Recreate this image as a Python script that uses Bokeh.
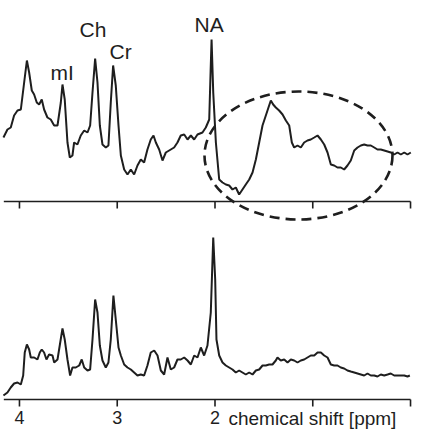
from bokeh.plotting import figure
from bokeh.models import Range1d, ColumnDataSource
from bokeh.core.properties import value
from bokeh.embed import file_html
from bokeh.resources import INLINE

# ---- data (ppm, intensity above each spectrum's own baseline) ----
top_ppm = [4.164, 4.123, 4.089, 4.055, 4.020, 3.986, 3.952, 3.924, 3.901, 3.874, 3.850, 3.823, 3.799, 3.772,
           3.748, 3.714, 3.680, 3.645, 3.611, 3.577, 3.560, 3.537, 3.509, 3.485, 3.458, 3.441, 3.407, 3.373,
           3.338, 3.304, 3.277, 3.253, 3.226, 3.202, 3.178, 3.151, 3.117, 3.090, 3.066, 3.042, 3.015, 2.987,
           2.963, 2.929, 2.895, 2.861, 2.827, 2.793, 2.759, 2.725, 2.691, 2.657, 2.629, 2.605, 2.571, 2.537,
           2.503, 2.452, 2.418, 2.384, 2.350, 2.315, 2.281, 2.247, 2.213, 2.179, 2.128, 2.094, 2.059, 2.045,
           2.035, 2.018, 1.991, 1.957, 1.923, 1.889, 1.855, 1.821, 1.787, 1.753, 1.719, 1.685, 1.650, 1.616,
           1.582, 1.548, 1.514, 1.480, 1.453, 1.429, 1.405, 1.378, 1.344, 1.309, 1.275, 1.241, 1.214, 1.190,
           1.156, 1.122, 1.088, 1.054, 1.020, 0.985, 0.951, 0.917, 0.883, 0.849, 0.815, 0.781, 0.747, 0.713,
           0.679, 0.645, 0.611, 0.576, 0.542, 0.508, 0.474, 0.440, 0.406, 0.371, 0.338, 0.304, 0.269, 0.235,
           0.202, 0.167, 0.133, 0.099, 0.064, 0.031, -0.003]
top_int = [64, 72, 74, 86, 91, 92, 119, 141, 129, 111, 107, 99, 97, 102,
           92, 84, 82, 76, 76, 99, 117, 102, 59, 44, 46, 59, 57, 66,
           71, 69, 76, 109, 143, 119, 76, 57, 54, 56, 99, 136, 116, 76,
           46, 32, 27, 32, 27, 36, 42, 39, 52, 62, 66, 59, 52, 41,
           49, 52, 54, 59, 66, 67, 62, 66, 62, 67, 69, 74, 82, 130,
           162, 109, 59, 22, 19, 17, 16, 12, 14, 7, 12, 17, 22, 29,
           42, 59, 76, 86, 94, 101, 97, 94, 91, 87, 81, 76, 59, 54,
           56, 54, 59, 61, 62, 64, 66, 62, 57, 49, 37, 36, 34, 34,
           32, 36, 41, 51, 54, 56, 57, 56, 56, 54, 52, 52, 51, 50,
           49, 47, 49, 47, 49, 47, 49]

bot_ppm = [4.164, 4.123, 4.089, 4.055, 4.020, 3.986, 3.962, 3.946, 3.924, 3.901, 3.884, 3.850, 3.816, 3.792,
           3.772, 3.748, 3.724, 3.697, 3.662, 3.645, 3.611, 3.588, 3.560, 3.537, 3.509, 3.482, 3.458, 3.424,
           3.389, 3.363, 3.338, 3.304, 3.277, 3.253, 3.226, 3.202, 3.178, 3.151, 3.117, 3.090, 3.066, 3.039,
           3.015, 2.987, 2.963, 2.929, 2.895, 2.861, 2.827, 2.793, 2.759, 2.725, 2.691, 2.657, 2.622, 2.588,
           2.554, 2.520, 2.486, 2.452, 2.418, 2.384, 2.350, 2.315, 2.281, 2.247, 2.213, 2.179, 2.145, 2.111,
           2.077, 2.043, 2.018, 1.998, 1.985, 1.957, 1.923, 1.889, 1.855, 1.821, 1.787, 1.753, 1.719, 1.685,
           1.650, 1.616, 1.582, 1.548, 1.514, 1.480, 1.446, 1.412, 1.378, 1.361, 1.327, 1.292, 1.258, 1.224,
           1.190, 1.156, 1.122, 1.088, 1.054, 1.020, 0.985, 0.951, 0.917, 0.883, 0.849, 0.815, 0.781, 0.747,
           0.713, 0.679, 0.645, 0.611, 0.576, 0.542, 0.508, 0.474, 0.440, 0.406, 0.371, 0.338, 0.304, 0.269,
           0.235, 0.202, 0.167, 0.133, 0.099, 0.064, 0.031, 0.007]
bot_int = [4, 7, 12, 16, 17, 15, 24, 47, 55, 50, 42, 42, 40, 47,
           50, 47, 40, 45, 44, 37, 40, 54, 71, 60, 40, 24, 32, 32,
           34, 40, 32, 29, 30, 60, 100, 87, 54, 39, 32, 37, 60, 104,
           80, 52, 44, 35, 32, 30, 27, 24, 25, 24, 34, 47, 49, 44,
           29, 25, 42, 30, 32, 40, 40, 42, 39, 35, 44, 42, 52, 44,
           54, 87, 162, 120, 60, 44, 37, 34, 32, 30, 27, 29, 27, 25,
           27, 25, 29, 30, 34, 34, 35, 35, 39, 42, 39, 40, 37, 40,
           39, 37, 39, 40, 42, 44, 44, 47, 47, 44, 42, 35, 34, 34,
           32, 31, 29, 28, 27, 26, 25, 24, 26, 24, 24, 23, 25, 24,
           25, 26, 24, 24, 24, 24, 23, 24]

tick_values = [4, 3, 2, 1, 0]
tick_labels = ["4", "3", "2", "", ""]
axis_start_ppm = 4.16
axis_title = "chemical shift [ppm]"

peak_names = ["mI", "Ch", "Cr", "NA"]
peak_label_ppm = [3.683, 3.386, 3.079, 2.210]
peak_label_y = [327, 370, 348, 375]

top_offset = 198          # vertical offset of the upper spectrum
ellipse_ppm, ellipse_y = 1.146, 244
ellipse_w, ellipse_h = 1.923, 128

INK = "#1e1e1e"
FONT = "Liberation Sans"

p = figure(width=420, height=430, output_backend="svg", toolbar_location=None,
           x_axis_location=None, y_axis_location=None,
           x_range=Range1d(4.194, -0.102), y_range=Range1d(-31, 399),
           min_border_left=0, min_border_right=0, min_border_top=0, min_border_bottom=0)
p.outline_line_color = None
p.grid.visible = False
p.background_fill_color = "white"

n = len(tick_values)
# two baseline axes (lower spectrum at 0, upper spectrum at top_offset)
for base in (0, top_offset):
    p.segment(x0=[axis_start_ppm], y0=[base], x1=[tick_values[-1]], y1=[base],
              line_color=INK, line_width=1.6)
    p.segment(x0=tick_values, y0=[base] * n, x1=tick_values, y1=[base - 7] * n,
              line_color=INK, line_width=1.6)

# tick labels for the lower axis
p.text(x=tick_values, y=[-11] * n, text=tick_labels, text_font=value(FONT),
       text_font_size="18px", text_color=INK, text_align="center", text_baseline="top")
p.text(x=[1.862], y=[-19], text=[axis_title], text_font=value(FONT),
       text_font_size="19px", text_color=INK, text_align="left", text_baseline="alphabetic")

# spectra
p.line(top_ppm, [v + top_offset for v in top_int], line_color=INK, line_width=2)
p.line(bot_ppm, bot_int, line_color=INK, line_width=2)

# dashed ellipse
p.ellipse(x=[ellipse_ppm], y=[ellipse_y], width=[ellipse_w], height=[ellipse_h],
          fill_color=None, line_color=INK, line_width=2.6, line_dash="10 6")

# peak labels
src = ColumnDataSource(dict(x=peak_label_ppm, y=peak_label_y, t=peak_names))
p.text(x="x", y="y", text="t", source=src, text_font=value(FONT), text_font_size="21px",
       text_color=INK, text_align="left", text_baseline="alphabetic")

open("out.html", "w").write(file_html(p, INLINE))
